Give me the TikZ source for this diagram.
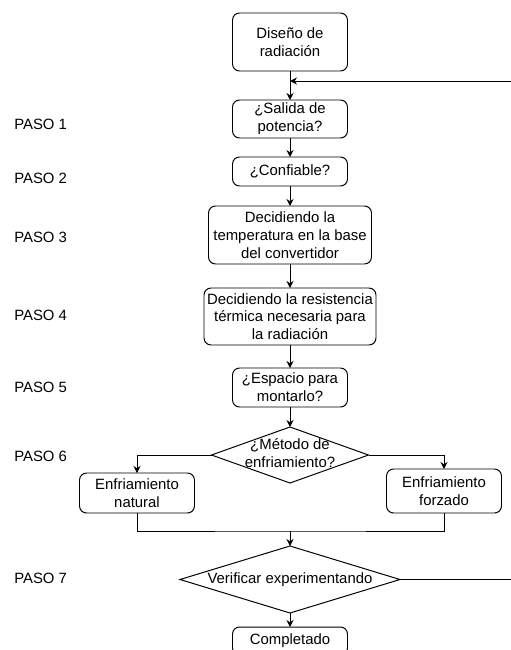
\documentclass[tikz,border=0pt]{standalone}
\usepackage{fontspec}
\setmainfont{Liberation Sans}
\usetikzlibrary{arrows.meta,positioning,shapes.geometric}
\newcommand{\dtext}[1]{\makebox[0pt]{\begin{tabular}{@{}c@{}}#1\end{tabular}}}
\tikzset{
  stepbox/.style={draw, rounded corners=5pt, line width=0.7pt, minimum width=2.875cm,
    minimum height=0.95cm, inner sep=1pt, outer sep=0pt, align=center,
    font=\fontsize{10.6}{12.6}\selectfont},
  decision/.style={stepbox, diamond, sharp corners, inner sep=0pt},
  pasolabel/.style={anchor=west, inner sep=0pt, font=\fontsize{10.6}{12.6}\selectfont},
  arrw/.style={-{Stealth[length=5pt, width=5pt]}, line width=0.7pt},
  lin/.style={line width=0.7pt},
}
\begin{document}
\begin{tikzpicture}
  \useasboundingbox (0,0) rectangle (12.75,-16.25);

  % main column
  \node[stepbox, minimum height=1.45cm] (diseno) at (7.25,-1.05) {Diseño de\\radiación};
  \node[stepbox, below=0.725cm of diseno] (salida) {¿Salida de\\potencia?};
  \node[stepbox, below=0.475cm of salida, minimum height=0.725cm] (confiable) {¿Confiable?};
  \node[stepbox, below=0.5cm of confiable, minimum width=4.075cm, minimum height=1.45cm] (temp)
    {Decidiendo la\\temperatura en la base\\del convertidor};
  \node[stepbox, below=0.6cm of temp, minimum width=4.3cm, minimum height=1.425cm] (resist)
    {Decidiendo la resistencia\\térmica necesaria para\\la radiación};
  \node[stepbox, below=0.575cm of resist, minimum height=0.975cm] (espacio) {¿Espacio para\\montarlo?};
  \node[decision, below=0.5cm of espacio, minimum width=3.925cm, minimum height=1.4cm] (metodo)
    {\dtext{¿Método de\\enfriamiento?}};
  \node[stepbox, below left=0.45cm and 0.425cm of metodo.west, minimum height=1cm] (natural)
    {Enfriamiento\\natural};
  \node[stepbox, below right=0.35cm and 0.45cm of metodo.east, minimum height=1.1cm] (forzado)
    {Enfriamiento\\forzado};
  \node[decision, below=1.575cm of metodo, minimum width=5.5cm, minimum height=1.675cm] (verificar)
    {\dtext{Verificar experimentando}};
  \node[stepbox, below=0.35cm of verificar, minimum height=0.7cm] (completado) {Completado};

  % step labels
  \node[pasolabel] (paso1) at (0.35,-3.1) {PASO 1};
  \node[pasolabel] (paso2) at (0.35,-4.45) {PASO 2};
  \node[pasolabel] (paso3) at (0.35,-5.925) {PASO 3};
  \node[pasolabel] (paso4) at (0.35,-7.875) {PASO 4};
  \node[pasolabel] (paso5) at (0.35,-9.675) {PASO 5};
  \node[pasolabel] (paso6) at (0.35,-11.4) {PASO 6};
  \node[pasolabel] (paso7) at (0.35,-14.45) {PASO 7};

  \coordinate (entry) at ([yshift=-0.25cm]diseno.south);
  \coordinate (loopx) at (12.85,0);
  \coordinate (merge) at ([yshift=0.375cm]verificar.north);

  \draw[arrw] (diseno) -- (salida);
  \draw[arrw] (salida) -- (confiable);
  \draw[arrw] (confiable) -- (temp);
  \draw[arrw] (temp) -- (resist);
  \draw[arrw] (resist) -- (espacio);
  \draw[arrw] (espacio) -- (metodo);
  \draw[arrw] (metodo.west) -| (natural);
  \draw[arrw] (metodo.east) -| (forzado);
  \draw[lin] (natural) |- (merge) -| (forzado);
  \draw[arrw] (merge) -- (verificar);
  \draw[arrw] (verificar) -- (completado);
  \draw[arrw] (verificar.east) -| (loopx |- entry) -- (entry);
\end{tikzpicture}
\end{document}
